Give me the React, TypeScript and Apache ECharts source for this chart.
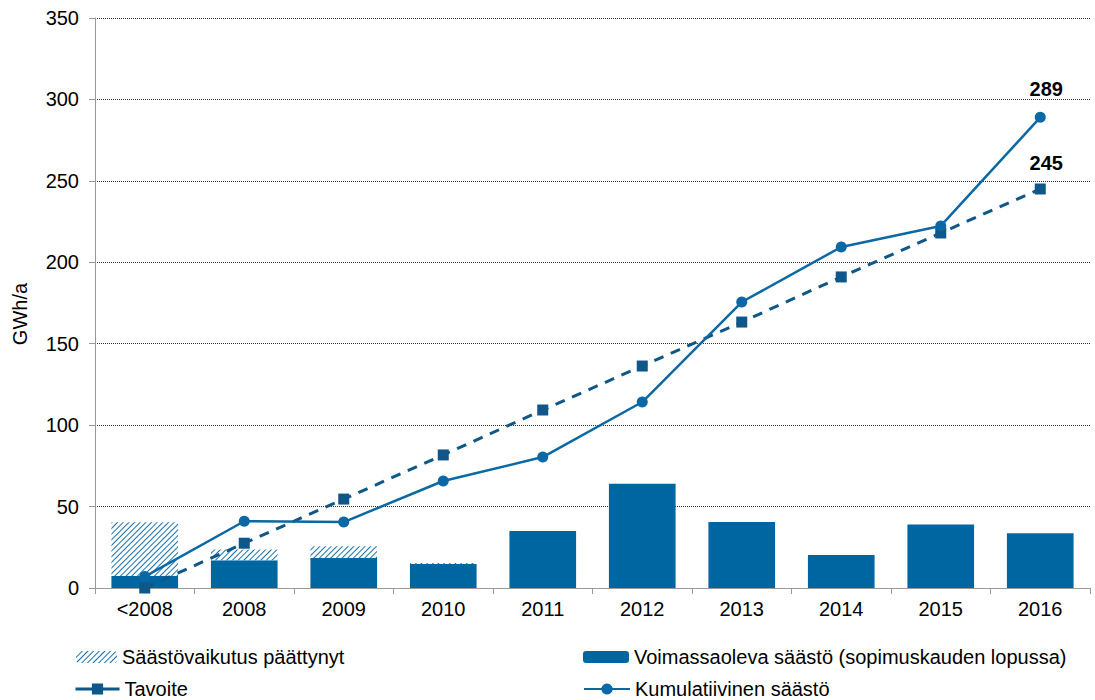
import React, { useEffect, useRef } from "react";
import * as echarts from "echarts";

const categories = ["<2008", "2008", "2009", "2010", "2011", "2012", "2013", "2014", "2015", "2016"];
const activeSavings = [7.4, 17, 18.4, 14.7, 35, 64, 40.5, 20.3, 39, 33.6];
const endedSavings = [33, 6.7, 7.2, 0.7, 0, 0, 0, 0, 0, 0];
const target = [0, 27.5, 54.6, 81.7, 109.3, 136.3, 163.3, 191, 218, 245];
const cumulative = [7, 41, 40.5, 65.7, 80.4, 114.2, 175.6, 209.4, 222.3, 289];
const yTicks = [0, 50, 100, 150, 200, 250, 300, 350];

const NAME_ENDED = "Säästövaikutus päättynyt";
const NAME_ACTIVE = "Voimassaoleva säästö (sopimuskauden lopussa)";
const NAME_TARGET = "Tavoite";
const NAME_CUM = "Kumulatiivinen säästö";

const FONT = "Liberation Sans, Arial, sans-serif";
const BAR = "#0066a1";
const CUM = "#0a68a5";
const TGT = "#0f5689";

export default function App() {
  const ref = useRef<HTMLDivElement>(null);
  useEffect(() => {
    document.body.style.margin = "0";
    const chart = echarts.init(ref.current!, null, { renderer: "svg" });
    const lastIdx = categories.length - 1;
    const legendText = { fontSize: 20, color: "#000", fontFamily: FONT, lineHeight: 20 };
    chart.setOption({
      animation: false,
      textStyle: { fontFamily: FONT },
      grid: { left: 95, right: 5, top: 18, bottom: 112, containLabel: false },
      legend: [
        { data: [NAME_ENDED], left: 76, top: 647, padding: 0, itemWidth: 41, itemHeight: 12, textStyle: legendText },
        { data: [NAME_ACTIVE], left: 583, top: 647, padding: 0, itemWidth: 46, itemHeight: 12, textStyle: legendText },
        {
          data: [NAME_TARGET], left: 74, top: 679, padding: 0, itemWidth: 44, itemHeight: 14, textStyle: legendText,
          lineStyle: { type: "solid", width: 3 },
        },
        { data: [NAME_CUM], left: 583, top: 679, padding: 0, itemWidth: 46, itemHeight: 14, textStyle: legendText },
      ],
      xAxis: {
        type: "category",
        data: categories,
        boundaryGap: true,
        axisLine: { lineStyle: { color: "#999", width: 1 } },
        axisTick: { show: true, length: 6, lineStyle: { color: "#999" } },
        axisLabel: { color: "#000", fontSize: 20, margin: 11, fontFamily: FONT },
      },
      yAxis: {
        type: "value",
        min: 0,
        max: 350,
        interval: 50,
        axisLine: { show: true, lineStyle: { color: "#999" } },
        axisTick: { show: true, length: 6, lineStyle: { color: "#999" } },
        axisLabel: {
          color: "#000",
          fontSize: 20,
          margin: 16,
          fontFamily: FONT,
          formatter: (v: number) => (yTicks.includes(v) ? String(v) : ""),
        },
        splitLine: { show: true, lineStyle: { color: "#333", type: [1, 1], width: 1 } },
      },
      graphic: [
        {
          type: "text",
          x: 20,
          y: 314,
          rotation: Math.PI / 2,
          style: {
            text: "GWh/a",
            fontSize: 20,
            fontFamily: FONT,
            fill: "#000",
            align: "center",
            verticalAlign: "middle",
          },
        },
      ],
      series: [
        {
          name: NAME_ACTIVE,
          type: "bar",
          stack: "s",
          barWidth: "67%",
          data: activeSavings,
          itemStyle: { color: BAR },
        },
        {
          name: NAME_ENDED,
          type: "bar",
          stack: "s",
          barWidth: "67%",
          data: endedSavings,
          itemStyle: {
            color: "#ffffff",
            decal: {
              symbol: "rect",
              symbolSize: 1,
              color: "#1a6fae",
              backgroundColor: "#ffffff",
              dashArrayX: [1, 0],
              dashArrayY: [1, 3],
              rotation: -Math.PI / 4,
            },
          },
        },
        {
          name: NAME_TARGET,
          type: "line",
          data: target,
          symbol: "rect",
          symbolSize: 11,
          lineStyle: { color: TGT, width: 3, type: [10, 8] },
          itemStyle: { color: TGT },
          label: {
            show: true,
            position: "top",
            distance: 11,
            offset: [6, 0],
            fontSize: 20,
            fontWeight: "bold",
            color: "#000",
            fontFamily: FONT,
            formatter: (p: any) => (p.dataIndex === lastIdx ? String(Math.round(p.value)) : ""),
          },
          z: 3,
        },
        {
          name: NAME_CUM,
          type: "line",
          data: cumulative,
          symbol: "circle",
          symbolSize: 11,
          lineStyle: { color: CUM, width: 2.5 },
          itemStyle: { color: CUM },
          label: {
            show: true,
            position: "top",
            distance: 13,
            offset: [6, 0],
            fontSize: 20,
            fontWeight: "bold",
            color: "#000",
            fontFamily: FONT,
            formatter: (p: any) => (p.dataIndex === lastIdx ? String(Math.round(p.value)) : ""),
          },
          z: 4,
        },
      ],
    });
    return () => chart.dispose();
  }, []);
  return <div ref={ref} style={{ width: 1095, height: 700 }} />;
}
